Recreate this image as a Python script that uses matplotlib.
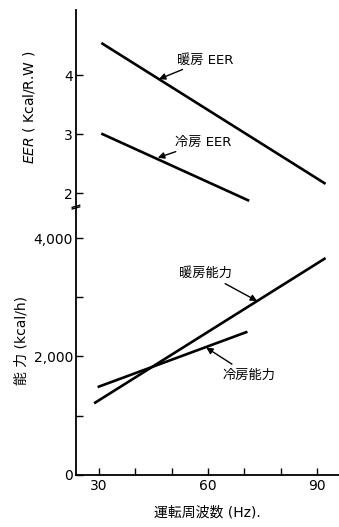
import matplotlib
matplotlib.use("Agg")
import matplotlib.pyplot as plt

plt.rcParams["font.family"] = ["DejaVu Sans", "Noto Sans CJK JP"]

# data
heat_eer_hz = [31, 92]
heat_eer = [4.53, 2.17]
cool_eer_hz = [31, 71]
cool_eer = [3.0, 1.88]

heat_cap_hz = [29, 92]
heat_cap = [1220, 3650]
cool_cap_hz = [30, 70.5]
cool_cap = [1490, 2410]

x_ticks = [30, 40, 50, 60, 70, 80, 90]
x_labels = ["30", "", "", "60", "", "", "90"]
eer_ticks = [2, 3, 4]
cap_ticks = [0, 1000, 2000, 3000, 4000]
cap_labels = ["0", "", "2,000", "", "4,000"]

fig = plt.figure(figsize=(3.39, 5.27), dpi=100)
ax_top = fig.add_axes([0.224, 0.611, 0.776, 0.370])
ax_bot = fig.add_axes([0.224, 0.099, 0.776, 0.508])

xlim = (23.7, 96)

# upper panel: EER
ax_top.plot(heat_eer_hz, heat_eer, color="black", lw=1.9)
ax_top.plot(cool_eer_hz, cool_eer, color="black", lw=1.9)
ax_top.set_xlim(*xlim)
ax_top.set_ylim(1.8, 5.1)
ax_top.set_yticks(eer_ticks)
ax_top.set_xticks([])
for s in ["top", "right", "bottom"]:
    ax_top.spines[s].set_visible(False)
ax_top.spines["left"].set_linewidth(1.3)
ax_top.tick_params(axis="y", direction="in", length=5, width=1, labelsize=10, pad=2)
ax_top.set_ylabel("$EER$ ( Kcal/R.W )", fontsize=10, labelpad=20)

ax_top.annotate("暖房 EER", xy=(46.5, 3.93), xytext=(51.5, 4.25),
                fontsize=9.5, va="center", ha="left",
                arrowprops=dict(arrowstyle="-|>", color="black", lw=1, shrinkA=0, shrinkB=0))
ax_top.annotate("冷房 EER", xy=(46.2, 2.6), xytext=(50.9, 2.86),
                fontsize=9.5, va="center", ha="left",
                arrowprops=dict(arrowstyle="-|>", color="black", lw=1, shrinkA=0, shrinkB=0))

# lower panel: capacity
ax_bot.plot(heat_cap_hz, heat_cap, color="black", lw=1.9)
ax_bot.plot(cool_cap_hz, cool_cap, color="black", lw=1.9)
ax_bot.set_xlim(*xlim)
ax_bot.set_ylim(0, 4523)
ax_bot.set_xticks(x_ticks)
ax_bot.set_xticklabels(x_labels)
ax_bot.set_yticks(cap_ticks)
ax_bot.set_yticklabels(cap_labels)
for s in ["top", "right"]:
    ax_bot.spines[s].set_visible(False)
ax_bot.spines["left"].set_linewidth(1.3)
ax_bot.spines["bottom"].set_linewidth(1.3)
ax_bot.tick_params(direction="in", length=5, width=1, labelsize=10, pad=3)
ax_bot.tick_params(axis="y", pad=2)
ax_bot.set_ylabel("能 力 (kcal/h)", fontsize=10, labelpad=4)
ax_bot.set_xlabel("運転周波数 (Hz).", fontsize=10, labelpad=9)

ax_bot.annotate("暖房能力", xy=(73.5, 2937), xytext=(66.6, 3409),
                fontsize=9.5, va="center", ha="right",
                arrowprops=dict(arrowstyle="-|>", color="black", lw=1, shrinkA=2, shrinkB=0))
ax_bot.annotate("冷房能力", xy=(59.5, 2150), xytext=(63.9, 1688),
                fontsize=9.5, va="center", ha="left",
                arrowprops=dict(arrowstyle="-|>", color="black", lw=1, shrinkA=2, shrinkB=0))

# axis break mark
for yy in (0.6085, 0.6055):
    fig.add_artist(plt.Line2D([0.213, 0.235], [yy - 0.002, yy + 0.002],
                              transform=fig.transFigure, color="black", lw=1))

fig.savefig("out.png", dpi=100)
